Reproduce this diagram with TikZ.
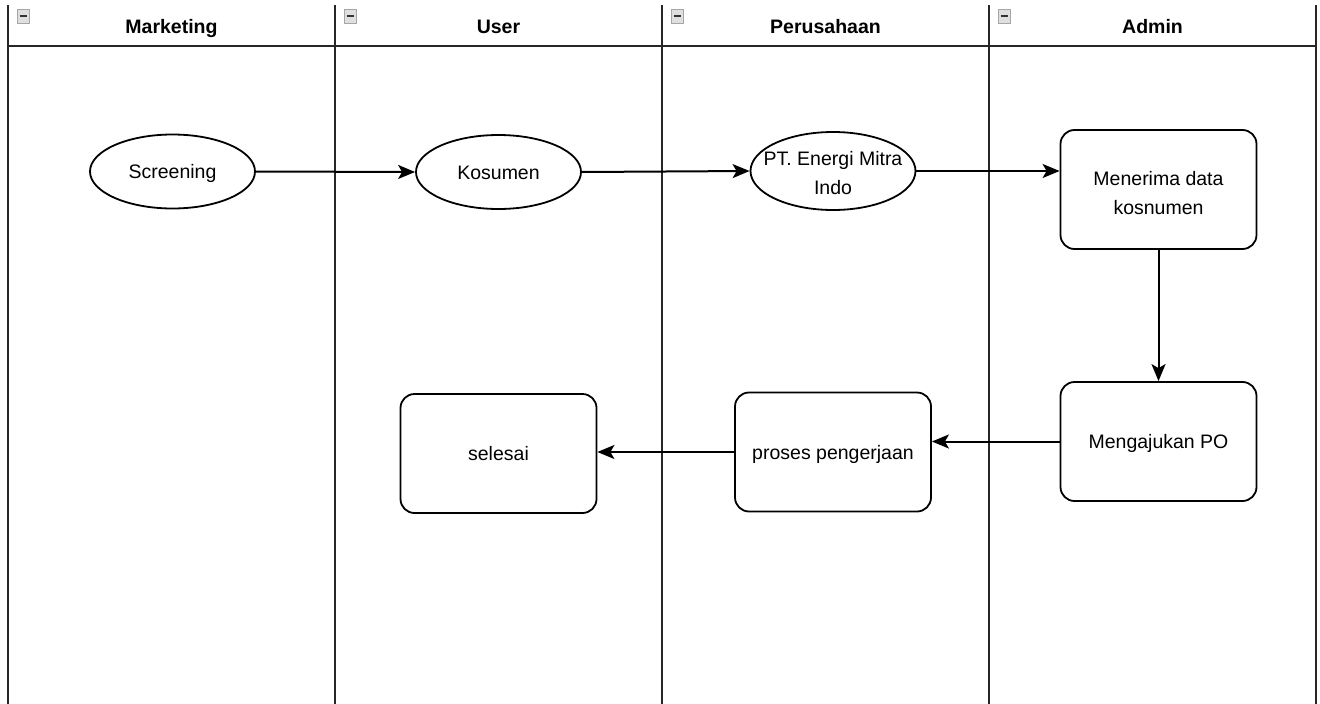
\documentclass[tikz,border=0pt]{standalone}
\usepackage{fontspec}
\setmainfont{Liberation Sans}
\usetikzlibrary{arrows.meta,shapes.geometric}
\begin{document}
\begin{tikzpicture}[x=1pt,y=-1pt,
  lane/.style={line width=2pt,draw=black!85},
  hdr/.style={font=\fontsize{19.5}{23}\selectfont\bfseries,inner sep=0,anchor=base},
  oval/.style={ellipse,draw,line width=1.8pt,minimum width=165pt,minimum height=74pt,inner sep=0,align=center,font=\fontsize{19.5}{29}\selectfont},
  proc/.style={rectangle,rounded corners=14pt,draw,line width=1.8pt,minimum width=196pt,minimum height=119pt,inner sep=0,align=center,font=\fontsize{19.5}{29}\selectfont},
  one/.style={text height=18pt,text depth=4pt},
  lbl/.style={inner sep=0,align=center,font=\fontsize{19.5}{29.5}\selectfont},
  flow/.style={line width=2pt,-{Stealth[length=17pt,width=14pt,inset=4pt]}},
  icon/.style={draw=gray!70,fill=gray!25,line width=0.8pt}]
\path[use as bounding box] (0,0) rectangle (1320,704);
% lanes
\foreach \x in {8,335,662,989,1316} \draw[lane] (\x,5) -- (\x,704);
\draw[line width=2.5pt,draw=black!85] (8,46) -- (1316,46);
% collapse icons
\foreach \x in {17,344,671,998} {
  \draw[icon] (\x,9) rectangle ++(12,14);
  \draw[line width=1.8pt,black!80] (\x+2.5,16) -- (\x+9.5,16);
}
% headers
\node[hdr] (hm) at (171.5,33) {Marketing};
\node[hdr] (hu) at (498.5,33) {User};
\node[hdr] (hp) at (825.5,33) {Perusahaan};
\node[hdr] (ha) at (1152.5,33) {Admin};
% nodes
\node[oval,one] (scr) at (172.5,171.5) {Screening};
\node[oval,one] (kos) at (498.5,172) {Kosumen};
\node[oval,minimum height=78pt] (pt) at (833,171) {};
\node[lbl] (ptl) at (833,173) {PT. Energi Mitra\\Indo};
\node[proc] (men) at (1158.5,189.5) {};
\node[lbl] (menl) at (1158.5,193) {Menerima data\\kosnumen};
\node[proc,one] (ajk) at (1158.5,441.5) {Mengajukan PO};
\node[proc,one] (pro) at (833,452) {proses pengerjaan};
\node[proc,one] (sel) at (498.5,453.5) {selesai};
% connectors
\draw[flow] (scr.east) -- (kos.west);
\draw[flow] (kos.east) -- (pt.west);
\draw[flow] (pt.east) -- (pt.east -| men.west);
\draw[flow] (men.south) -- (ajk.north);
\draw[flow] (ajk.west) -- (ajk.west -| pro.east);
\draw[flow] (pro.west) -- (pro.west -| sel.east);
\end{tikzpicture}
\end{document}
